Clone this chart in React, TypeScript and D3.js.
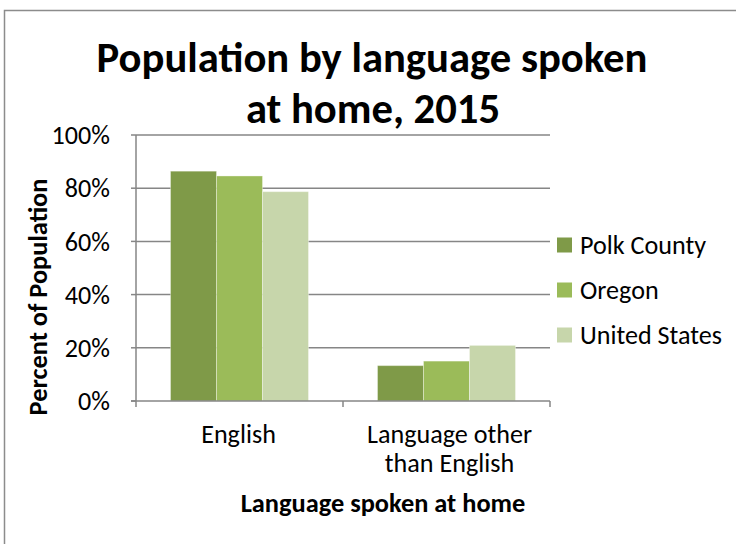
import React, { useEffect, useRef } from "react";
import * as d3 from "d3";

const categories = ["English", "Language other than English"];
const categoryLines = [["English"], ["Language other", "than English"]];
const seriesNames = ["Polk County", "Oregon", "United States"];
const polkCounty = [0.864, 0.133];
const oregon = [0.846, 0.15];
const unitedStates = [0.787, 0.209];
const yTicks = [0, 0.2, 0.4, 0.6, 0.8, 1.0];
const colors = ["#7f9a48", "#9bbb59", "#c7d6ab"];

const FONT = "Carlito, Calibri, 'Open Sans', sans-serif";

function fitSize(sel: any, target: number, base: number) {
  const node = sel.node() as SVGTextElement;
  const w = node.getComputedTextLength();
  return w > 0 ? (base * target) / w : base;
}

export default function App() {
  const ref = useRef<SVGSVGElement>(null);
  useEffect(() => {
    const svg = d3.select(ref.current);
    svg.selectAll("*").remove();
    const W = 736, H = 544;
    const left = 136, right = 550, top = 135, bottom = 401;

    svg.append("rect").attr("x", 0).attr("y", 0).attr("width", W).attr("height", H).attr("fill", "#fff");
    svg.append("rect").attr("x", 4.5).attr("y", 10.5).attr("width", W + 20).attr("height", H + 20)
      .attr("fill", "none").attr("stroke", "#8c8c8c").attr("stroke-width", 1.5);

    // measure font sizes to match reference text widths
    const probe = (txt: string, bold: boolean, target: number) => {
      const t = svg.append("text").attr("font-family", FONT).attr("font-size", 20)
        .attr("font-weight", bold ? "bold" : "normal").text(txt);
      const s = fitSize(t, target, 20);
      t.remove();
      return s;
    };
    const bodySize = (probe("Polk County", false, 127) + probe("Language other", false, 168) + probe("100%", false, 57)) / 3;
    const titleSize = probe("Population by language spoken", true, 551);
    const axisTitleSize = (probe("Language spoken at home", true, 287) + probe("Percent of Population", true, 235)) / 2;

    const x0 = d3.scaleBand().domain(categories).range([left, right]).paddingInner(0).paddingOuter(0);
    const x1 = d3.scaleBand().domain(seriesNames).range([0, x0.bandwidth()]).paddingInner(0).paddingOuter(0.75);
    const y = d3.scaleLinear().domain([0, 1]).range([bottom, top]);

    svg.append("g").selectAll("line").data(yTicks.filter(t => t > 0)).join("line")
      .attr("x1", left).attr("x2", right).attr("y1", d => y(d)).attr("y2", d => y(d))
      .attr("stroke", "#868686").attr("stroke-width", 1.5);

    const data = [polkCounty, oregon, unitedStates];
    const g = svg.append("g");
    seriesNames.forEach((s, si) => {
      g.selectAll(null).data(categories).join("rect")
        .attr("x", c => (x0(c) as number) + (x1(s) as number))
        .attr("width", x1.bandwidth())
        .attr("y", (c, i) => y(data[si][i]))
        .attr("height", (c, i) => bottom - y(data[si][i]))
        .attr("fill", colors[si])
        .attr("stroke", "#ffffff").attr("stroke-opacity", 0.35).attr("stroke-width", 1);
    });

    const ax = svg.append("g").attr("stroke", "#868686").attr("stroke-width", 1.5);
    ax.append("line").attr("x1", left).attr("x2", left).attr("y1", top).attr("y2", bottom);
    ax.append("line").attr("x1", left - 5).attr("x2", right).attr("y1", bottom).attr("y2", bottom);
    ax.selectAll(".yt").data(yTicks).join("line").attr("class", "yt")
      .attr("x1", left - 5).attr("x2", left).attr("y1", d => y(d)).attr("y2", d => y(d));
    const xt = [left, left + x0.bandwidth(), right];
    ax.selectAll(".xt").data(xt).join("line").attr("class", "xt")
      .attr("x1", d => d).attr("x2", d => d).attr("y1", bottom).attr("y2", bottom + 6);

    const fmt = d3.format(".0%");
    svg.append("g").selectAll("text").data(yTicks).join("text")
      .attr("x", 110).attr("y", d => y(d)).attr("dy", "0.35em").attr("text-anchor", "end")
      .attr("font-family", FONT).attr("font-size", bodySize).attr("fill", "#000").text(d => fmt(d));

    categories.forEach((c, i) => {
      const cx = (x0(c) as number) + x0.bandwidth() / 2;
      categoryLines[i].forEach((ln, j) => {
        svg.append("text").attr("x", cx + (i === 1 ? 3 : -1)).attr("y", 443 + j * 29).attr("text-anchor", "middle")
          .attr("font-family", FONT).attr("font-size", bodySize).attr("fill", "#000").text(ln);
      });
    });

    svg.append("text").attr("x", 383).attr("y", 512).attr("text-anchor", "middle")
      .attr("font-family", FONT).attr("font-size", axisTitleSize).attr("font-weight", "bold").text("Language spoken at home");

    svg.append("text").attr("transform", `translate(47,297) rotate(-90)`)
      .attr("text-anchor", "middle")
      .attr("font-family", FONT).attr("font-size", axisTitleSize).attr("font-weight", "bold").text("Percent of Population");

    const title = svg.append("text").attr("text-anchor", "middle")
      .attr("font-family", FONT).attr("font-size", titleSize).attr("font-weight", "bold");
    title.append("tspan").attr("x", 372).attr("y", 72).text("Population by language spoken");
    title.append("tspan").attr("x", 373).attr("y", 123).text("at home, 2015");

    const lg = svg.append("g");
    seriesNames.forEach((s, i) => {
      const cy = 245 + i * 45;
      lg.append("rect").attr("x", 557).attr("y", cy - 7.5).attr("width", 15).attr("height", 15).attr("fill", colors[i]);
      lg.append("text").attr("x", 580).attr("y", cy).attr("dy", "0.35em")
        .attr("font-family", FONT).attr("font-size", bodySize).text(s);
    });
  }, []);
  return (
    <svg ref={ref} width={736} height={544}
      style={{ position: "absolute", left: 0, top: 0, display: "block" }} />
  );
}
